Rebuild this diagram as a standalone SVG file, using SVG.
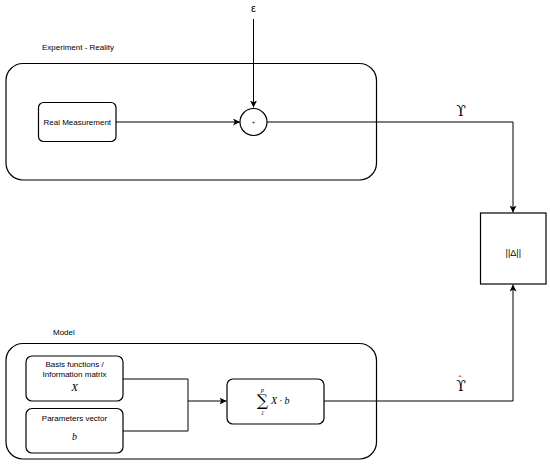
<svg xmlns="http://www.w3.org/2000/svg" width="550" height="464" viewBox="0 0 550 464">
<defs>
<style>
.box{fill:#fff;stroke:#000;stroke-width:1.2}
.ln{fill:none;stroke:#000;stroke-width:1}
.t{font-family:"Liberation Sans",Arial,sans-serif;font-size:8px;fill:#000}
.m{font-family:"Liberation Serif","DejaVu Serif",serif;font-style:italic;fill:#000}
.s{font-family:"DejaVu Serif","Liberation Serif",serif;fill:#000}
</style>
<marker id="ah" viewBox="0 0 10 10" refX="10" refY="5" markerWidth="7" markerHeight="7" orient="auto" markerUnits="userSpaceOnUse">
<path d="M0,0 L10,5 L0,10 L2.5,5 Z" fill="#000"/>
</marker>
</defs>
<rect width="550" height="464" fill="#fff"/>

<g id="experiment">
<text class="t" x="42" y="49.5">Experiment - Reality</text>
<rect class="box" x="6" y="63.5" width="370.5" height="116.5" rx="17"/>
</g>
<g id="model">
<text class="t" x="53" y="335">Model</text>
<rect class="box" x="6" y="343.5" width="370.5" height="115.5" rx="17"/>
</g>

<g id="connectors">
<path class="ln" d="M253.5,19 V107.5" marker-end="url(#ah)"/>
<path class="ln" d="M116,122 H240" marker-end="url(#ah)"/>
<path class="ln" d="M267,122 H513 V212.5" marker-end="url(#ah)"/>
<path class="ln" d="M123,379 H188 V431 H123"/>
<path class="ln" d="M188,401 H226.5" marker-end="url(#ah)"/>
<path class="ln" d="M324,401 H513 V284.5" marker-end="url(#ah)"/>
</g>

<g id="epsilon"><text class="t" x="253.5" y="12" text-anchor="middle" style="font-size:11px">ε</text></g>
<g id="real-measurement">
<rect class="box" x="38.5" y="102.5" width="77.5" height="39" rx="5"/>
<text class="t" x="77.3" y="124.5" text-anchor="middle">Real Measurement</text>
</g>
<g id="sum-node">
<circle class="box" cx="253.5" cy="122" r="13.5"/>
<text class="t" x="253.5" y="124" text-anchor="middle" style="font-size:5px">+</text>
</g>
<g id="upsilon"><text class="s" x="461" y="116" text-anchor="middle" style="font-size:14px">ϒ</text></g>
<g id="norm">
<rect class="box" x="480.5" y="213" width="65.5" height="71"/>
<text class="t" x="513.3" y="256" text-anchor="middle" style="font-size:9px">||Δ||</text>
</g>
<g id="basis">
<rect class="box" x="26" y="356" width="97" height="45" rx="6"/>
<text class="t" x="74.5" y="366.5" text-anchor="middle">Basis functions /</text>
<text class="t" x="74.5" y="376.5" text-anchor="middle">Information matrix</text>
<text class="m" x="74.5" y="391" text-anchor="middle" style="font-size:11px">X</text>
</g>
<g id="params">
<rect class="box" x="26" y="408.5" width="97" height="44.5" rx="6"/>
<text class="t" x="74.5" y="421" text-anchor="middle">Parameters vector</text>
<text class="m" x="74.5" y="440" text-anchor="middle" style="font-size:10px">b</text>
</g>
<g id="sum-box">
<rect class="box" x="227" y="379" width="97" height="45" rx="6"/>
<text class="s" x="262.5" y="406" text-anchor="middle" style="font-size:16px">∑</text>
<text class="m" x="262.5" y="392" text-anchor="middle" style="font-size:6px">p</text>
<text class="m" x="262.5" y="414.5" text-anchor="middle" style="font-size:6px">1</text>
<text class="m" x="271" y="404" style="font-size:10px">X · b</text>
</g>
<g id="upsilon-hat"><text class="s" x="461" y="391" text-anchor="middle" style="font-size:14px">ϒ<tspan dx="-8" dy="-8" style="font-size:9px">ˆ</tspan></text></g>
</svg>
